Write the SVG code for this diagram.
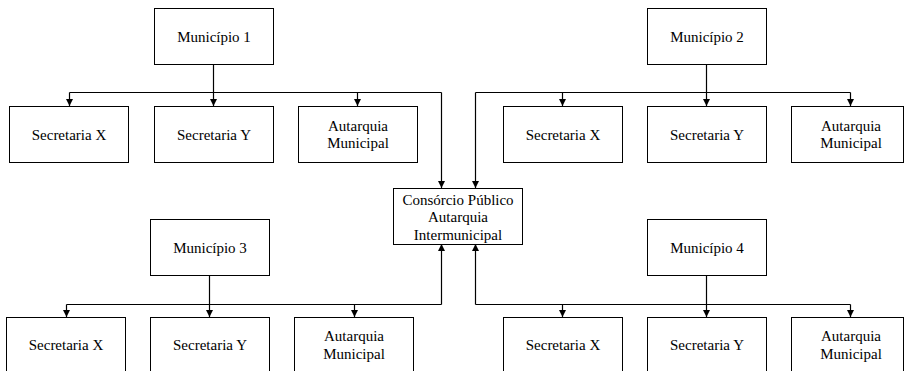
<svg xmlns="http://www.w3.org/2000/svg" width="904" height="371" viewBox="0 0 904 371">
<style>
.box{fill:#fff;stroke:#000;stroke-width:1}
.t{font-family:"Liberation Serif","Times New Roman",serif;font-size:15px;fill:#000;text-anchor:middle}
.c{fill:none;stroke:#000;stroke-width:1.2}
.a{marker-end:url(#ah)}
</style>
<defs>
<marker id="ah" viewBox="0 0 10 10" refX="10" refY="5" markerWidth="7" markerHeight="7" markerUnits="userSpaceOnUse" orient="auto">
<path d="M0,0 L10,5 L0,10 z" fill="#000"/>
</marker>
</defs>
<rect width="904" height="371" fill="#fff"/>
<g id="connectors">
<!-- Municipio 1 -->
<path class="c" d="M213.5,64 V92.5"/>
<path class="c" d="M69.5,92.5 H441.5"/>
<path class="c a" d="M69.5,92.5 V106"/>
<path class="c a" d="M213.5,92.5 V106"/>
<path class="c a" d="M357.5,92.5 V106"/>
<path class="c a" d="M441.5,92.5 V188"/>
<!-- Municipio 2 -->
<path class="c" d="M706.5,64 V92.5"/>
<path class="c" d="M475.5,92.5 H850.5"/>
<path class="c a" d="M562.5,92.5 V106"/>
<path class="c a" d="M706.5,92.5 V106"/>
<path class="c a" d="M850.5,92.5 V106"/>
<path class="c a" d="M475.5,92.5 V188"/>
<!-- Municipio 3 -->
<path class="c" d="M209.5,276 V304.5"/>
<path class="c" d="M66.5,304.5 H441.5"/>
<path class="c a" d="M66.5,304.5 V317"/>
<path class="c a" d="M209.5,304.5 V317"/>
<path class="c a" d="M354.5,304.5 V317"/>
<path class="c a" d="M441.5,304.5 V244"/>
<!-- Municipio 4 -->
<path class="c" d="M706.5,276 V304.5"/>
<path class="c" d="M475.5,304.5 H850.5"/>
<path class="c a" d="M562.5,304.5 V317"/>
<path class="c a" d="M706.5,304.5 V317"/>
<path class="c a" d="M850.5,304.5 V317"/>
<path class="c a" d="M475.5,304.5 V244"/>
</g>
<g id="municipio1"><rect class="box" x="154.5" y="8.5" width="119" height="56"/><text class="t" x="214" y="41.5">Município 1</text></g>
<g id="m1-secx"><rect class="box" x="9.5" y="106.5" width="119" height="56"/><text class="t" x="69" y="139.5">Secretaria X</text></g>
<g id="m1-secy"><rect class="box" x="154.5" y="106.5" width="119" height="56"/><text class="t" x="214" y="139.5">Secretaria Y</text></g>
<g id="m1-aut"><rect class="box" x="298.5" y="106.5" width="119" height="56"/><text class="t" x="358" y="130.5">Autarquia</text><text class="t" x="358" y="148">Municipal</text></g>

<g id="municipio2"><rect class="box" x="647.5" y="8.5" width="119" height="56"/><text class="t" x="707" y="41.5">Município 2</text></g>
<g id="m2-secx"><rect class="box" x="503.5" y="106.5" width="119" height="56"/><text class="t" x="563" y="139.5">Secretaria X</text></g>
<g id="m2-secy"><rect class="box" x="647.5" y="106.5" width="119" height="56"/><text class="t" x="707" y="139.5">Secretaria Y</text></g>
<g id="m2-aut"><rect class="box" x="791.5" y="106.5" width="112" height="56"/><text class="t" x="851" y="130.5">Autarquia</text><text class="t" x="851" y="148">Municipal</text></g>

<g id="consorcio"><rect class="box" x="393.5" y="188.5" width="129" height="56"/><text class="t" x="458" y="204.5">Consórcio Público</text><text class="t" x="458" y="222">Autarquia</text><text class="t" x="458" y="239.5">Intermunicipal</text></g>

<g id="municipio3"><rect class="box" x="150.5" y="219.5" width="119" height="56"/><text class="t" x="210" y="252.5">Município 3</text></g>
<g id="m3-secx"><rect class="box" x="6.5" y="317.5" width="119" height="56"/><text class="t" x="66" y="350">Secretaria X</text></g>
<g id="m3-secy"><rect class="box" x="150.5" y="317.5" width="119" height="56"/><text class="t" x="210" y="350">Secretaria Y</text></g>
<g id="m3-aut"><rect class="box" x="294.5" y="317.5" width="119" height="56"/><text class="t" x="354" y="341">Autarquia</text><text class="t" x="354" y="358.5">Municipal</text></g>

<g id="municipio4"><rect class="box" x="647.5" y="219.5" width="119" height="56"/><text class="t" x="707" y="252.5">Município 4</text></g>
<g id="m4-secx"><rect class="box" x="503.5" y="317.5" width="119" height="56"/><text class="t" x="563" y="350">Secretaria X</text></g>
<g id="m4-secy"><rect class="box" x="647.5" y="317.5" width="119" height="56"/><text class="t" x="707" y="350">Secretaria Y</text></g>
<g id="m4-aut"><rect class="box" x="791.5" y="317.5" width="112" height="56"/><text class="t" x="851" y="341">Autarquia</text><text class="t" x="851" y="358.5">Municipal</text></g>
</svg>
